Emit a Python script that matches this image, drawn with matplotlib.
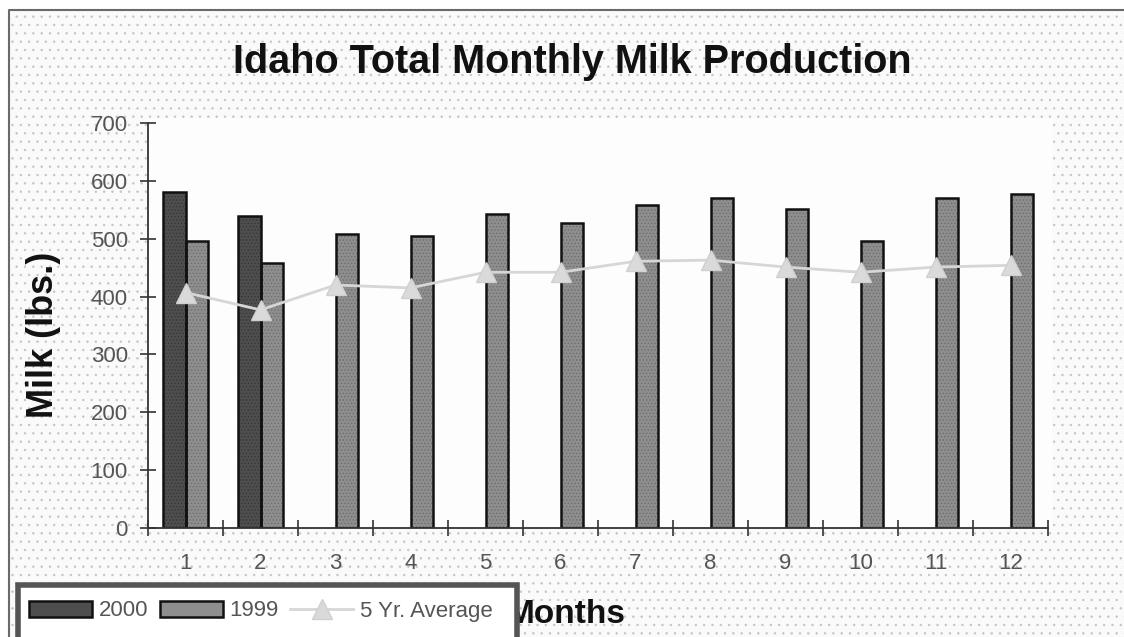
import numpy as np
import matplotlib.pyplot as plt
from matplotlib.patches import Rectangle
from matplotlib.lines import Line2D

plt.rcParams['font.family'] = ['Liberation Sans', 'DejaVu Sans']
plt.rcParams['hatch.linewidth'] = 0.5

# data
months = np.arange(1, 13)
milk_2000 = [580, 540]
milk_1999 = [496, 458, 509, 504, 542, 528, 558, 571, 551, 496, 571, 577]
avg_5yr = [407, 377, 420, 415, 442, 442, 461, 463, 451, 442, 451, 454]
y_ticks = [0, 100, 200, 300, 400, 500, 600, 700]

fig = plt.figure(figsize=(11.24, 6.37), dpi=100)
W, H = 1124, 637

def fx(px):
    return px / W

def fy(py):
    return 1 - py / H

def frect(x0, y0, x1, y1, **kw):
    # rectangle given in pixel coords (top-left origin)
    r = Rectangle((fx(x0), fy(y1)), fx(x1) - fx(x0), fy(y0) - fy(y1),
                  transform=fig.transFigure, **kw)
    fig.patches.append(r)
    return r

# dotted background
frect(8, 10, 1130, 650, facecolor='#fafafa', edgecolor='#c4c4c4', hatch='..',
      linewidth=0, zorder=0)
# outer border (left and top only visible)
fig.lines.append(Line2D([fx(9), fx(9), fx(1124)], [fy(640), fy(10), fy(10)],
                        transform=fig.transFigure, color='#6a6a6a', linewidth=1.5, zorder=0.5))
# white plot area
frect(148, 118, 1052, 528, facecolor='#fdfdfd', edgecolor='none', zorder=0.6)

ax = fig.add_axes([fx(148), fy(528), fx(1048) - fx(148), fy(123) - fy(528)])
ax.set_facecolor('none')
ax.set_zorder(1)

w = 0.3
x00 = months[:len(milk_2000)] - w / 2
x99 = months + w / 2
ax.bar(x00, milk_2000, width=w, color='#4e4e4e', edgecolor='#333333',
       linewidth=0, hatch='.....', zorder=2)
ax.bar(x00, milk_2000, width=w, color='none', edgecolor='#111111', linewidth=1.8, zorder=2.1)
ax.bar(x99, milk_1999, width=w, color='#8e8e8e', edgecolor='#6a6a6a',
       linewidth=0, hatch='.....', zorder=2)
ax.bar(x99, milk_1999, width=w, color='none', edgecolor='#111111', linewidth=1.8, zorder=2.1)
ax.plot(months, avg_5yr, color='#d6d6d6', linewidth=2, marker='^',
        markersize=14, markerfacecolor='#dadada', markeredgecolor='#d0d0d0', zorder=3)

ax.set_xlim(0.5, 12.5)
ax.set_ylim(0, 700)
ax.set_yticks(y_ticks)
ax.set_xticks(months)
ax.set_xticks(np.arange(0.5, 13, 1), minor=True)
ax.tick_params(axis='x', which='major', length=0, pad=18, labelsize=16, labelcolor='#555555')
ax.tick_params(axis='x', which='minor', direction='inout', length=12, width=1.2, color='#333333')
ax.tick_params(axis='y', direction='inout', length=11, width=1.2, color='#333333',
               pad=9, labelsize=16, labelcolor='#555555')
for s in ['top', 'right']:
    ax.spines[s].set_visible(False)
for s in ['left', 'bottom']:
    ax.spines[s].set_color('#333333')
    ax.spines[s].set_linewidth(1.3)

fig.text(fx(572), fy(73), 'Idaho Total Monthly Milk Production', ha='center', va='baseline',
         fontsize=28.5, fontweight='bold', color='#111111')
fig.text(fx(53), fy(335), 'Milk (lbs.)', ha='center', va='baseline', rotation=90,
         rotation_mode='anchor', fontsize=26, fontweight='bold', color='#111111')
fig.text(fx(626), fy(623), 'Months', ha='right', va='baseline',
         fontsize=24, fontweight='bold', color='#111111', zorder=1)

# legend box (runs off the bottom edge like the original)
frect(18, 585, 517, 660, facecolor='white', edgecolor='#555555', linewidth=4, zorder=4)
h00 = Rectangle((0, 0), 1, 1, facecolor='#4e4e4e', edgecolor='#111111', linewidth=1.8)
h99 = Rectangle((0, 0), 1, 1, facecolor='#8e8e8e', edgecolor='#111111', linewidth=1.8)
havg = Line2D([], [], color='#d6d6d6', linewidth=2, marker='^', markersize=14,
              markerfacecolor='#dadada', markeredgecolor='#d0d0d0')
leg = fig.legend([h00, h99, havg], ['2000', '1999', '5 Yr. Average'],
                 loc='center left', bbox_to_anchor=(fx(29), fy(611)), ncol=3,
                 frameon=False, fontsize=16, handlelength=2.85, handleheight=0.7,
                 columnspacing=0.5, handletextpad=0.3, borderpad=0, borderaxespad=0)
leg.set_zorder(5)
for t in leg.get_texts():
    t.set_color('#555555')

fig.savefig('out.png', dpi=100)
